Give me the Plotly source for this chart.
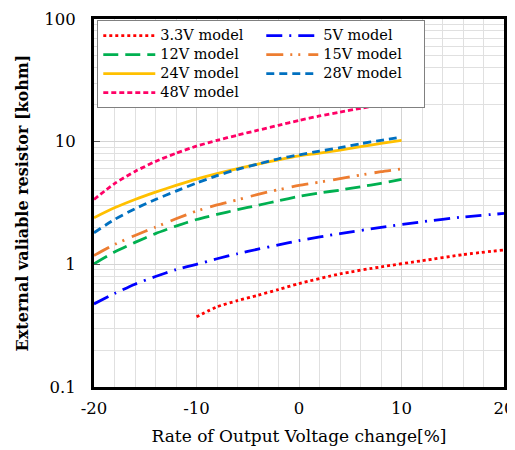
import plotly.graph_objects as go

# ---- data ----
x_main = [-20, -18, -16, -14, -12, -10, -8, -6, -4, -2, 0, 2, 4, 6, 8, 10]
v48 = [3.38, 4.55, 5.72, 6.9, 8.05, 9.2, 10.25, 11.3, 12.4, 13.6, 14.9, 16.2, 17.4, 18.7, 20.0, 21.3]
v28 = [1.81, 2.32, 2.84, 3.38, 3.95, 4.6, 5.28, 5.95, 6.57, 7.25, 7.8, 8.37, 8.93, 9.63, 10.25, 10.9]
v24 = [2.40, 2.89, 3.38, 3.88, 4.40, 4.95, 5.48, 6.03, 6.57, 7.12, 7.65, 8.05, 8.53, 9.10, 9.68, 10.25]
v15 = [1.18, 1.45, 1.72, 2.01, 2.35, 2.72, 3.05, 3.36, 3.72, 4.06, 4.4, 4.68, 4.99, 5.34, 5.69, 6.0]
v12 = [1.01, 1.26, 1.51, 1.78, 2.05, 2.32, 2.55, 2.79, 3.03, 3.30, 3.58, 3.82, 4.03, 4.29, 4.57, 4.92]

x_5v = [-20, -18, -16, -14, -12, -10, -8, -6, -4, -2, 0, 4, 8, 12, 16, 20]
v5 = [0.476, 0.578, 0.689, 0.795, 0.907, 1.0, 1.11, 1.22, 1.33, 1.44, 1.56, 1.78, 2.0, 2.22, 2.43, 2.60]

x_33 = [-10, -8, -6, -4, -2, 0, 4, 8, 12, 16, 20]
v33 = [0.373, 0.45, 0.506, 0.56, 0.623, 0.697, 0.836, 0.954, 1.07, 1.20, 1.31]

series_names = ["3.3V model", "5V model", "12V model", "15V model", "24V model", "28V model", "48V model"]

x_ticks = [-20, -10, 0, 10, 20]
x_tick_text = ["-20", "-10", "0", "10", "20"]
y_ticks = [0.1, 1, 10, 100]
y_tick_text = ["0.1", "1", "10", "100"]

SERIF = "DejaVu Serif, serif"

xs_list = [x_33, x_5v, x_main, x_main, x_main, x_main, x_main]
ys_list = [v33, v5, v12, v15, v24, v28, v48]
colors = ["#FF0000", "#0000FF", "#00B050", "#ED7D31", "#FFC000", "#0070C0", "#FF0066"]
dashes = ["3px,3px", "16px,7px,2px,7px", "15px,7px", "17px,7px,2px,6px,2px,8px",
          "solid", "8px,5px", "5px,3px"]

fig = go.Figure()
for name, xs, ys, color, dash in zip(series_names, xs_list, ys_list, colors, dashes):
    fig.add_trace(go.Scatter(
        x=xs, y=ys, name='<span style="font-size:14.5px">' + name + '</span>', mode="lines",
        line=dict(color=color, width=2.8, dash=dash, shape="spline", smoothing=0.6),
    ))

# page body has an 8px margin, so the figure is 8px smaller on each axis
fig.update_layout(
    width=507, height=442,
    margin=dict(l=86, r=11, t=11, b=63),
    paper_bgcolor="white", plot_bgcolor="white",
    font=dict(family=SERIF, color="black", size=16),
    legend=dict(
        orientation="h", x=0.008, y=0.997, xanchor="left", yanchor="top",
        entrywidth=96, entrywidthmode="pixels", itemwidth=52,
        bgcolor="white", bordercolor="#808080", borderwidth=1,
        font=dict(family=SERIF, size=10, color="black"),
    ),
    showlegend=True,
)

fig.update_xaxes(
    automargin=False,
    range=[-20, 20], tickvals=x_ticks, ticktext=x_tick_text,
    showline=True, mirror=True, linewidth=3, linecolor="black",
    showgrid=True, gridcolor="#d4d4d4", gridwidth=1,
    minor=dict(dtick=2, showgrid=True, gridcolor="#e0e0e0", gridwidth=1),
    ticks="", zeroline=False,
    ticklabelstandoff=4,
    tickfont=dict(family=SERIF, size=16.5),
    title=dict(text="Rate of Output Voltage change[%]", font=dict(family=SERIF, size=17), standoff=14),
)

fig.update_yaxes(
    automargin=False,
    type="log", range=[-1, 2], tickvals=y_ticks, ticktext=y_tick_text,
    showline=True, mirror=True, linewidth=3, linecolor="black",
    showgrid=True, gridcolor="#d4d4d4", gridwidth=1,
    minor=dict(dtick="D1", showgrid=True, gridcolor="#e0e0e0", gridwidth=1),
    ticks="inside", ticklen=6, tickcolor="#555555",
    ticklabelstandoff=12,
    zeroline=False,
    tickfont=dict(family=SERIF, size=16.5),
    title=dict(text="<b>External valiable resistor [kohm]</b>", font=dict(family=SERIF, size=16), standoff=12),
)

fig.write_html("out.html")
